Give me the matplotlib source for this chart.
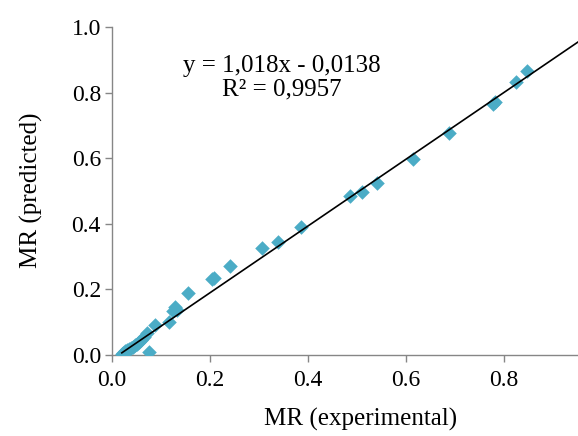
import numpy as np
import matplotlib
matplotlib.use('Agg')
import matplotlib.pyplot as plt

plt.rcParams['font.family'] = ['Liberation Serif', 'DejaVu Serif']

# measured vs predicted moisture ratio
mr_exp = [0.020, 0.023, 0.026, 0.030, 0.034, 0.038, 0.042, 0.046, 0.050, 0.055,
          0.060, 0.066, 0.071, 0.076, 0.087, 0.117, 0.124, 0.129, 0.132, 0.155,
          0.204, 0.208, 0.241, 0.306, 0.339, 0.386, 0.486, 0.510, 0.541, 0.614,
          0.688, 0.777, 0.782, 0.824, 0.846]
mr_pred = [0.003, 0.007, 0.011, 0.014, 0.018, 0.022, 0.025, 0.029, 0.034, 0.040,
           0.046, 0.056, 0.066, 0.008, 0.091, 0.100, 0.135, 0.147, 0.137, 0.189,
           0.232, 0.235, 0.271, 0.326, 0.345, 0.390, 0.485, 0.497, 0.524, 0.598,
           0.676, 0.765, 0.772, 0.831, 0.867]

slope = 1.018
intercept = -0.0138
eq_text = 'y = 1,018x - 0,0138\nR² = 0,9957'

fig = plt.figure(figsize=(5.78, 4.36), dpi=100)
ax = fig.add_axes([0.1938, 0.1858, 0.8062, 0.7522])

ax.scatter(mr_exp, mr_pred, marker='D', s=55, color='#4BACC6', linewidths=0, zorder=3)

xl = np.array([min(mr_exp), 1.0])
ax.plot(xl, slope * xl + intercept, color='black', lw=1.2, zorder=4)

ax.text(0.347, 0.845, eq_text, ha='center', va='center', fontsize=18,
        linespacing=1.1)

ax.set_xlim(0, 0.951)
ax.set_ylim(0, 1.0)
ax.set_xticks([0.0, 0.2, 0.4, 0.6, 0.8])
ax.set_yticks([0.0, 0.2, 0.4, 0.6, 0.8, 1.0])
ax.xaxis.set_major_formatter(matplotlib.ticker.FormatStrFormatter('%.1f'))
ax.yaxis.set_major_formatter(matplotlib.ticker.FormatStrFormatter('%.1f'))

for s in ['top', 'right']:
    ax.spines[s].set_visible(False)
for s in ['left', 'bottom']:
    ax.spines[s].set_color('#868686')
    ax.spines[s].set_linewidth(1.0)
ax.tick_params(direction='out', length=5, width=1.0, color='#868686',
               labelsize=17)
ax.tick_params(axis='y', pad=3)
ax.tick_params(axis='x', pad=6)

ax.set_xlabel('MR (experimental)', fontsize=18, va='center')
ax.set_ylabel('MR (predicted)', fontsize=18, va='center')
ax.xaxis.set_label_coords(0.534, -0.198)
ax.yaxis.set_label_coords(-0.172, 0.503)

fig.savefig('out.png', dpi=100)
